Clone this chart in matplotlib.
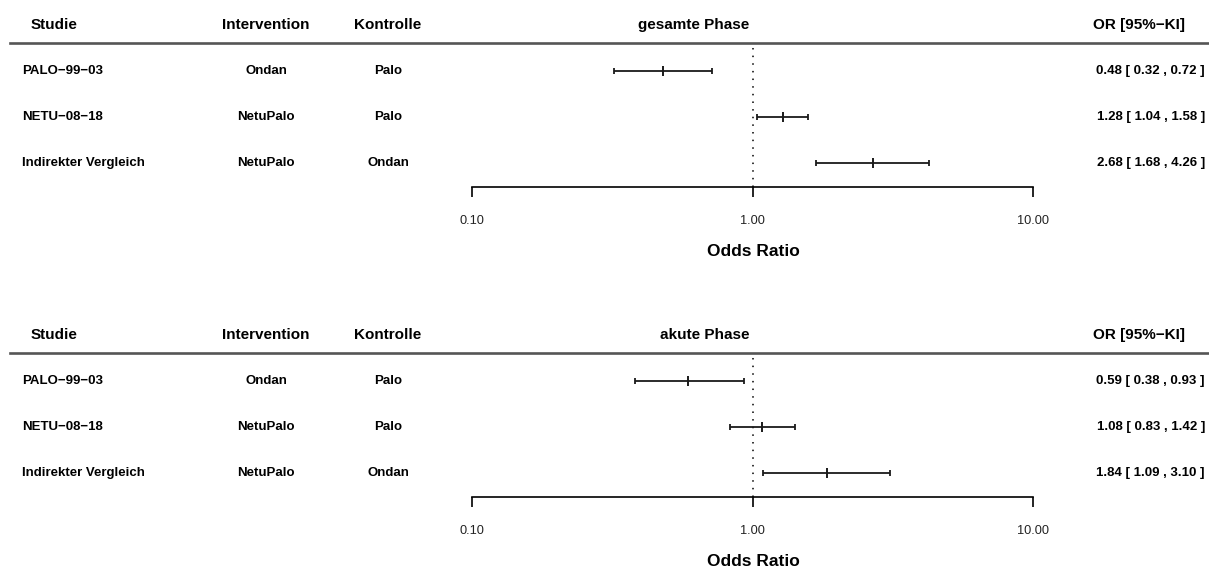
import matplotlib
matplotlib.use('Agg')
import matplotlib.pyplot as plt
import matplotlib.transforms as mtransforms
from matplotlib.lines import Line2D
from matplotlib.ticker import NullLocator
import numpy as np

plt.rcParams['font.family'] = ['Liberation Sans', 'DejaVu Sans']

# ---------------- data ----------------
studies = ['PALO−99−03', 'NETU−08−18', 'Indirekter Vergleich']
intervention = ['Ondan', 'NetuPalo', 'NetuPalo']
control = ['Palo', 'Palo', 'Ondan']
phases = ['gesamte Phase', 'akute Phase']

or_total = [0.48, 1.28, 2.68]
lo_total = [0.32, 1.04, 1.68]
hi_total = [0.72, 1.58, 4.26]

or_acute = [0.59, 1.08, 1.84]
lo_acute = [0.38, 0.83, 1.09]
hi_acute = [0.93, 1.42, 3.10]

tick_values = [0.1, 1, 10]
tick_labels = ['0.10', '1.00', '10.00']
col_headers = ['Studie', 'Intervention', 'Kontrolle', 'OR [95%−KI]']
x_label = 'Odds Ratio'

# ---------------- layout ----------------
W, H = 1209, 570
fig = plt.figure(figsize=(W / 100, H / 100), dpi=100)


def fx(px):
    return px / W


def fy(py):
    return 1 - py / H


panels = [
    (phases[0], or_total, lo_total, hi_total, 0),
    (phases[1], or_acute, lo_acute, hi_acute, 310),
]

ink = '#1a1a1a'
for phase, ors, los, his, off in panels:
    sep_y = 43 + off
    axis_y = 187 + off
    ax = fig.add_axes([fx(472), fy(axis_y), (1033 - 472) / W, (axis_y - sep_y) / H])
    ax.set_xscale('log')
    ax.set_xlim(0.1, 10)
    n = len(ors)
    ys = n - np.arange(n)
    unit = 46.0
    ylim = (1 - 24 / unit, n + 28 / unit)
    ax.set_ylim(*ylim)

    ors_a = np.array(ors)
    xerr = [ors_a - np.array(los), np.array(his) - ors_a]
    ax.errorbar(ors_a, ys, xerr=xerr, fmt='none', ecolor=ink, elinewidth=1.3,
                capsize=1.9, capthick=1.3, zorder=3)
    ax.plot(ors_a, ys, linestyle='none', marker='|', markersize=7.5,
            markeredgewidth=1.4, color=ink, zorder=4)
    ax.plot([1, 1], [ylim[0], ylim[1] - 2 / unit], linestyle=(0, (1, 4)),
            lw=1.1, color='black', zorder=2)

    for s in ['top', 'left', 'right']:
        ax.spines[s].set_visible(False)
    ax.spines['bottom'].set_linewidth(1.2)
    ax.spines['bottom'].set_color('black')
    ax.set_yticks([])
    ax.set_xticks(tick_values)
    ax.set_xticklabels(tick_labels)
    ax.xaxis.set_minor_locator(NullLocator())
    ax.tick_params(axis='x', direction='out', length=7.5, width=1.2, pad=13,
                   labelsize=9.2, colors='black')
    for lab in ax.get_xticklabels():
        lab.set_color('#222222')
    ax.patch.set_visible(False)

    # header row
    hy = fy(25 + off)
    hkw = dict(ha='center', va='center', fontsize=11, fontweight='bold', color='black')
    fig.text(fx(54), hy, col_headers[0], **hkw)
    fig.text(fx(266), hy, col_headers[1], **hkw)
    fig.text(fx(388), hy, col_headers[2], **hkw)
    fig.text(fx(749), hy, phase, ha='right', va='center', fontsize=11,
             fontweight='bold', color='black')
    fig.text(fx(1139), hy, col_headers[3], **hkw)

    # separator line
    fig.add_artist(Line2D([fx(10), 1.0], [fy(sep_y), fy(sep_y)],
                          transform=fig.transFigure, lw=1.9, color='#555555'))

    # row texts
    trans = mtransforms.blended_transform_factory(fig.transFigure, ax.transData)
    rkw = dict(transform=trans, va='center', fontsize=9.5, fontweight='bold',
               color='black')
    for i in range(n):
        y = ys[i]
        ax.text(fx(22), y, studies[i], ha='left', **rkw)
        ax.text(fx(266), y, intervention[i], ha='center', **rkw)
        ax.text(fx(388), y, control[i], ha='center', **rkw)
        ax.text(fx(1205), y, f"{ors[i]:.2f} [ {los[i]:.2f} , {his[i]:.2f} ]",
                ha='right', **rkw)

    fig.text(fx(753), fy(251 + off), x_label, ha='center', va='center',
             fontsize=12.5, fontweight='bold', color='black')

fig.savefig('out.png', dpi=100, facecolor='white')
